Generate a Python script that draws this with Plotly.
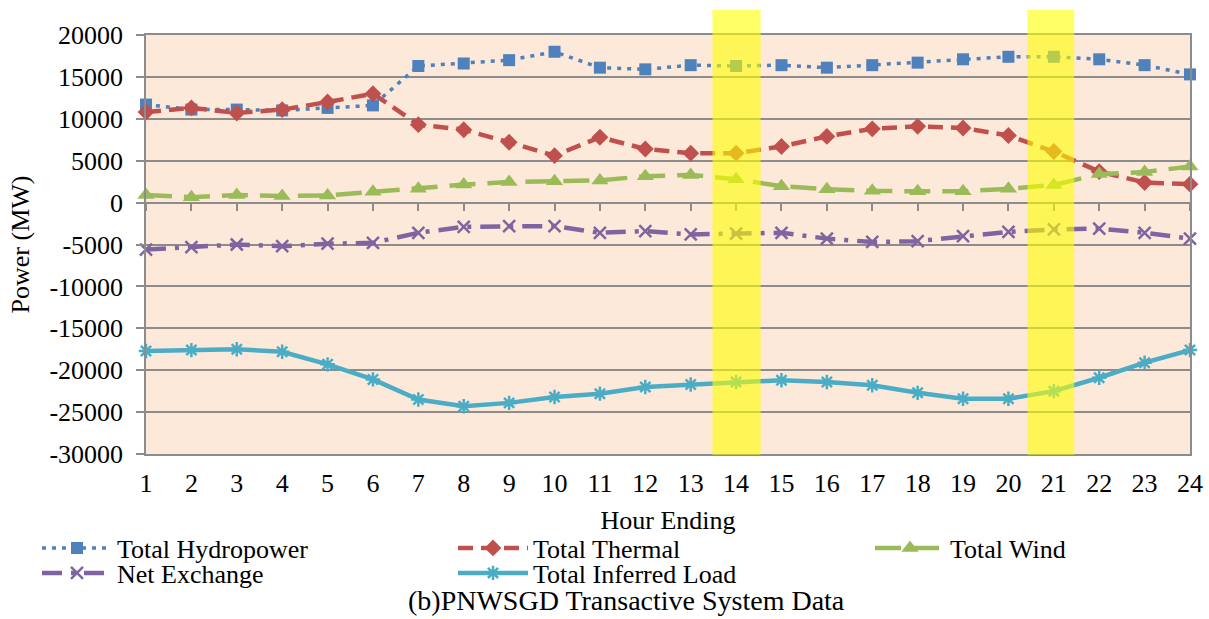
import plotly.graph_objects as go

hours = list(range(1, 25))
hour_labels = [str(h) for h in hours]

hydro = [11700, 11100, 11100, 11000, 11300, 11600, 16300, 16600, 17000, 18000,
         16100, 15900, 16400, 16300, 16400, 16100, 16400, 16700, 17100, 17400,
         17400, 17100, 16400, 15300]
thermal = [10800, 11300, 10700, 11100, 12000, 13000, 9300, 8700, 7200, 5600,
           7800, 6400, 5900, 5900, 6700, 7900, 8800, 9100, 8900, 8000,
           6100, 3700, 2400, 2200]
wind = [900, 650, 900, 800, 850, 1300, 1650, 2150, 2450, 2550,
        2650, 3150, 3300, 2800, 1950, 1600, 1400, 1350, 1350, 1650,
        2100, 3400, 3650, 4300]
net_exchange = [-5600, -5300, -5000, -5200, -4900, -4800, -3600, -2900, -2800, -2800,
                -3600, -3400, -3800, -3700, -3600, -4300, -4700, -4600, -4000, -3500,
                -3200, -3100, -3600, -4300]
load = [-17700, -17600, -17500, -17800, -19300, -21100, -23500, -24300, -23900, -23200,
        -22800, -22000, -21700, -21400, -21200, -21400, -21800, -22700, -23400, -23400,
        -22500, -20900, -19100, -17600]

y_ticks = [20000, 15000, 10000, 5000, 0, -5000, -10000, -15000, -20000, -25000, -30000]
y_tick_labels = ["20000", "15000", "10000", "5000", "0", "-5000", "-10000",
                 "-15000", "-20000", "-25000", "-30000"]
highlight_hours = [14, 21]

FONT = "'Liberation Serif', 'Times New Roman', Times, serif"
GRID = "#8C8C8C"
FS = 26
W, H = 1209, 619
L, R, T, B = 146, 19, 35, 165
PW, PH = W - L - R, H - T - B


def px_x(px):
    return (px - L) / PW


def px_y(py):
    return (H - B - py) / PH


fig = go.Figure()

series = [
    ("Total Hydropower", hydro, "#4F81BD", "4px,6px", 3.5, "square", 12, None),
    ("Total Thermal", thermal, "#C0504D", "15px,8px", 4.5, "diamond", 13, None),
    ("Total Wind", wind, "#9BBB59", "26px,12px", 4.5, "triangle-up", 15, None),
    ("Net Exchange", net_exchange, "#8064A2", "20px,9px,4px,9px", 4.5, "x-thin-open", 12, 2.5),
    ("Total Inferred Load", load, "#4BACC6", None, 4.5, "asterisk-open", 12, 2.5),
]
# legend text start (px) and row centre (px) for each entry
legend_pos = [(117, 548), (533, 548), (950, 548), (117, 573), (533, 573)]

legend_layouts = {}
for i, (name, vals, color, dash, lw, sym, msize, mlw) in enumerate(series):
    marker = dict(symbol=sym, size=msize, color=color)
    if mlw:
        marker["line"] = dict(color=color, width=mlw)
    lname = "legend" if i == 0 else f"legend{i + 1}"
    fig.add_trace(go.Scatter(
        x=hours, y=vals, name=name, mode="lines+markers",
        line=dict(color=color, width=lw, dash=dash if dash else "solid"),
        marker=marker, cliponaxis=False, legend=lname,
    ))
    tx, ty = legend_pos[i]
    legend_layouts[lname] = dict(
        orientation="h", x=px_x(tx - 80), y=px_y(ty), xref="paper", yref="paper",
        xanchor="left", yanchor="middle", itemwidth=70,
        font=dict(size=FS, family=FONT), bgcolor="rgba(0,0,0,0)",
        borderwidth=0,
    )

band_edges = {14: (13.48, 14.54), 21: (20.42, 21.45)}
for h in highlight_hours:
    x0, x1 = band_edges[h]
    fig.add_shape(type="rect", xref="x", yref="paper", x0=x0, x1=x1,
                  y0=-0.002, y1=1.06, fillcolor="rgba(255,255,0,0.6)",
                  line=dict(width=0), layer="above")

fig.update_layout(
    width=W, height=H,
    margin=dict(l=L, r=R, t=T, b=B),
    paper_bgcolor="white", plot_bgcolor="#FDE9D9",
    font=dict(family=FONT, size=FS, color="black"),
    showlegend=True,
    xaxis=dict(range=[1, 24], tickmode="array", tickvals=hours, ticktext=hour_labels,
               showgrid=False, zeroline=False, ticks="", showline=True, mirror=True,
               linecolor=GRID, linewidth=1.5, automargin=False,
               ticklabelstandoff=5,
               title=dict(text="Hour Ending", standoff=14, font=dict(size=FS, family=FONT)),
               tickfont=dict(size=FS, family=FONT)),
    xaxis2=dict(range=[1, 24], overlaying="x", anchor="free", position=0.6,
                tickmode="array", tickvals=hours, showticklabels=False,
                ticks="outside", ticklen=8, tickcolor=GRID, tickwidth=1.5,
                showline=True, linecolor=GRID, linewidth=1.5, showgrid=False,
                zeroline=False, automargin=False),
    yaxis=dict(range=[-30000, 20000], tickmode="array", tickvals=y_ticks,
               ticktext=y_tick_labels, showgrid=True, gridcolor=GRID, gridwidth=1.5,
               zeroline=False, ticks="outside", ticklen=8, tickcolor=GRID,
               tickwidth=1.5, showline=True, linecolor=GRID, linewidth=1.5,
               mirror=True, tickfont=dict(size=FS, family=FONT), automargin=False,
               ticklabelstandoff=8,
               title=dict(text="Power (MW)", standoff=12, font=dict(size=FS, family=FONT))),
    **legend_layouts,
)

fig.add_trace(go.Scatter(x=[1], y=[0], xaxis="x2", mode="markers",
                         marker=dict(opacity=0), showlegend=False, hoverinfo="skip"))

fig.add_annotation(text="(b)PNWSGD Transactive System Data", xref="paper", yref="paper",
                   x=px_x(626), y=px_y(600), showarrow=False,
                   font=dict(size=28, family=FONT), xanchor="center", yanchor="middle")

fig.write_html("out.html")
